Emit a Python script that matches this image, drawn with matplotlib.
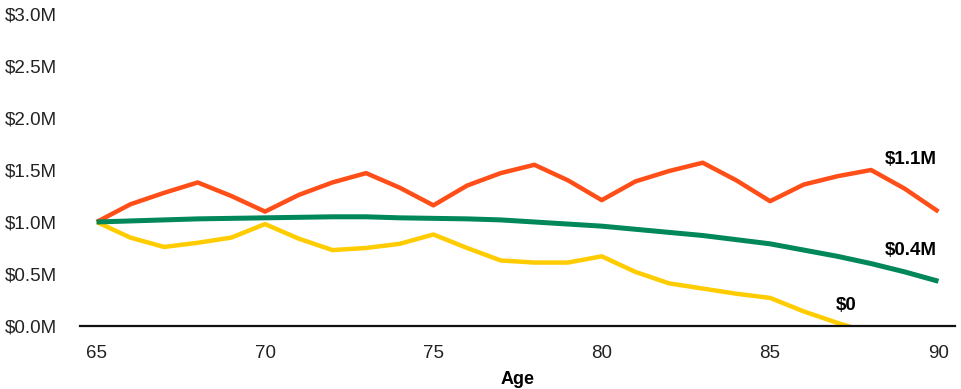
import numpy as np
import matplotlib
matplotlib.use("Agg")
import matplotlib.pyplot as plt

ages = list(range(65, 91))
red = [1.00, 1.17, 1.28, 1.38, 1.25, 1.10, 1.26, 1.38, 1.47, 1.33, 1.16, 1.35, 1.47,
       1.55, 1.40, 1.21, 1.39, 1.49, 1.57, 1.40, 1.20, 1.36, 1.44, 1.50, 1.32, 1.10]
green = [1.00, 1.01, 1.02, 1.03, 1.035, 1.04, 1.045, 1.05, 1.05, 1.04, 1.035, 1.03, 1.02,
         1.00, 0.98, 0.96, 0.93, 0.90, 0.87, 0.83, 0.79, 0.73, 0.67, 0.60, 0.52, 0.43]
yellow = [1.00, 0.85, 0.76, 0.80, 0.85, 0.98, 0.84, 0.73, 0.75, 0.79, 0.88, 0.75, 0.63,
          0.61, 0.61, 0.67, 0.52, 0.41, 0.36, 0.31, 0.27, 0.14, 0.03, -0.07, np.nan, np.nan]
yticks = [0.0, 0.5, 1.0, 1.5, 2.0, 2.5, 3.0]
ytick_labels = ["$0.0M", "$0.5M", "$1.0M", "$1.5M", "$2.0M", "$2.5M", "$3.0M"]
xticks = [65, 70, 75, 80, 85, 90]
end_labels = ["$1.1M", "$0.4M", "$0"]

plt.rcParams['font.family'] = ['Liberation Sans', 'DejaVu Sans']

fig = plt.figure(figsize=(9.62, 3.89), dpi=100)
ax = fig.add_axes([0.083, 0.162, 0.910, 0.802])

c_red = "#FF4E17"
c_green = "#00875A"
c_yellow = "#FFCC00"

ax.plot(ages, yellow, color=c_yellow, lw=3.2, solid_capstyle='butt', zorder=3)
ax.plot(ages, red, color=c_red, lw=3.2, solid_capstyle='butt', zorder=4)
ax.plot(ages, green, color=c_green, lw=3.6, solid_capstyle='butt', zorder=5)

ax.set_xlim(64.5, 90.5)
ax.set_ylim(0, 3.0)
for s in ['top', 'right', 'left']:
    ax.spines[s].set_visible(False)
ax.spines['bottom'].set_linewidth(1.6)
ax.spines['bottom'].set_color('#111111')
ax.spines['bottom'].set_zorder(6)

ax.set_yticks(yticks)
ax.set_yticklabels(ytick_labels, fontsize=13.5, color='#222222')
ax.tick_params(axis='y', length=0, pad=54)
for lbl in ax.get_yticklabels():
    lbl.set_horizontalalignment('left')
ax.set_xticks(xticks)
ax.set_xticklabels([str(x) for x in xticks], fontsize=13.5, color='#222222')
ax.tick_params(axis='x', length=0, pad=14)

ax.set_xlabel("Age", fontsize=13, fontweight='bold', labelpad=6)

ax.text(88.42, 1.60, end_labels[0], fontsize=13.5, fontweight='bold', ha='left', va='center')
ax.text(88.42, 0.73, end_labels[1], fontsize=13.5, fontweight='bold', ha='left', va='center')
ax.text(86.94, 0.20, end_labels[2], fontsize=13.5, fontweight='bold', ha='left', va='center')

fig.savefig("out.png", dpi=100)
